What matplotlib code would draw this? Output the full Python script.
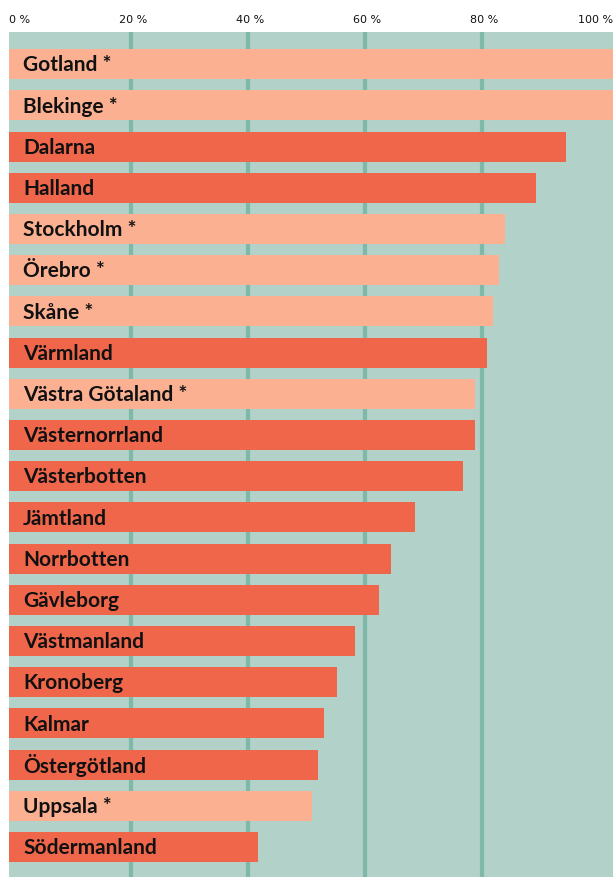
import matplotlib
matplotlib.use("Agg")
import matplotlib.pyplot as plt
from matplotlib.transforms import blended_transform_factory

regions = ["Gotland *", "Blekinge *", "Dalarna", "Halland", "Stockholm *", "Örebro *",
           "Skåne *", "Värmland", "Västra Götaland *", "Västernorrland", "Västerbotten",
           "Jämtland", "Norrbotten", "Gävleborg", "Västmanland", "Kronoberg", "Kalmar",
           "Östergötland", "Uppsala *", "Södermanland"]
values = [103, 103, 94.4, 89.2, 83.9, 82.9, 81.9, 80.9, 78.8, 78.8, 76.8,
          68.5, 64.4, 62.4, 58.3, 55.2, 53.0, 52.0, 50.9, 41.7]
ticks = [0, 20, 40, 60, 80, 100]
tick_labels = ["0 %", "20 %", "40 %", "60 %", "80 %", "100 %"]

dark = "#F0664A"
light = "#FBB092"
bg = "#B2D1C8"
grid = "#7DB8A8"

fam = ["Lato", "DejaVu Sans"]

fig = plt.figure(figsize=(6.13, 8.77), dpi=100)
ax = fig.add_axes([9 / 613, 0, 604 / 613, 845 / 877])
ax.set_facecolor(bg)
xmin, xmax = -0.85, 102.4
ax.set_xlim(xmin, xmax)
ax.set_ylim(len(regions) - 1 + 0.73, -0.78)

for x in ticks[1:-1]:
    ax.axvline(x, color=grid, lw=3.0, zorder=1)

for i, (r, v) in enumerate(zip(regions, values)):
    c = light if r.endswith("*") else dark
    ax.barh(i, v - xmin, left=xmin, height=30 / 41.2, color=c, zorder=2)

trans = blended_transform_factory(ax.transAxes, ax.transData)
for i, r in enumerate(regions):
    ax.text(14 / 604, i + 0.03, r, transform=trans, va="center", ha="left",
            fontsize=15, fontweight="bold", family=fam, color="#111111", zorder=3)

for s in ax.spines.values():
    s.set_visible(False)
ax.set_yticks([])
ax.set_xticks([])

ftrans = blended_transform_factory(ax.transData, fig.transFigure)
for t, lab in zip(ticks, tick_labels):
    if t == 0:
        ax.text(xmin, 1 - 20 / 877, lab, transform=ftrans, ha="left", va="center",
                fontsize=8, family=["DejaVu Sans"], color="#111111")
    elif t == 100:
        ax.text(xmax, 1 - 20 / 877, lab, transform=ftrans, ha="right", va="center",
                fontsize=8, family=["DejaVu Sans"], color="#111111")
    else:
        ax.text(t + 0.3, 1 - 20 / 877, lab, transform=ftrans, ha="center", va="center",
                fontsize=8, family=["DejaVu Sans"], color="#111111")

fig.savefig("out.png", dpi=100)
